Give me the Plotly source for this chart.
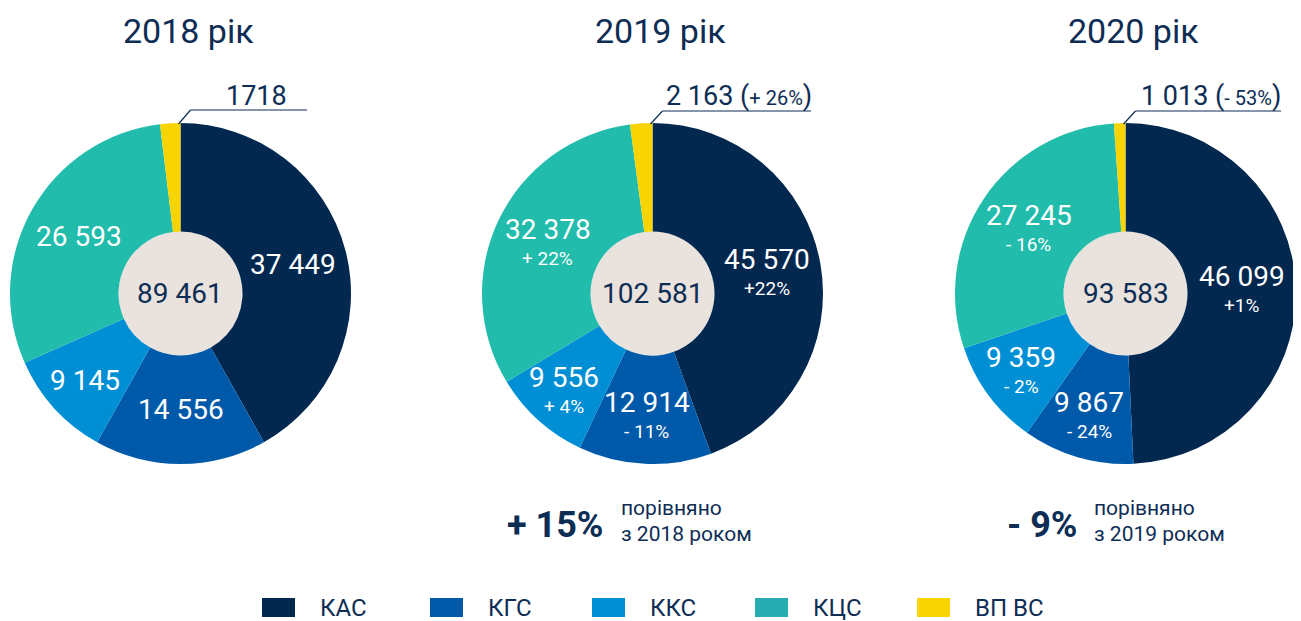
import math
import plotly.graph_objects as go

# ---------------- data ----------------
categories = ["КАС", "КГС", "ККС", "КЦС", "ВП ВС"]
years = ["2018", "2019", "2020"]
values_2018 = [37449, 14556, 9145, 26593, 1718]
values_2019 = [45570, 12914, 9556, 32378, 2163]
values_2020 = [46099, 9867, 9359, 27245, 1013]
change_2019 = ["+22%", "- 11%", "+ 4%", "+ 22%", "+ 26%"]
change_2020 = ["+1%", "- 24%", "- 2%", "- 16%", "- 53%"]
callout_labels = ["1718", "2 163", "1 013"]
total_change = ["", "+ 15%", "- 9%"]
compare_line1 = ["", "порівняно", "порівняно"]
compare_line2 = ["", "з 2018 роком", "з 2019 роком"]

slice_colors = ["#02284f", "#0059a9", "#008fd4", "#21bcab", "#f9d400"]
legend_colors = ["#02284f", "#0059a9", "#008fd4", "#26abb0", "#f9d400"]
NAVY = "#0e2d55"
BEIGE = "#e9e2dd"
FONT = "Roboto"

# page geometry (the figure div sits 8px in from the page corner)
W, H = 1301, 621
OFF = 8
FW, FH = W - OFF, H - OFF
R = 170.5
HOLE_R = 62
centers_x = [180.5, 652.5, 1125.5]
center_y = 293.5


def px(x):
    return (x - OFF) / FW


def py(y):
    return 1 - (y - OFF) / FH


def fmt(v):
    return f"{v:,}".replace(",", " ")


def ann(x, y, text, size, color=NAVY, xanchor="center", yanchor="middle", **fontkw):
    return dict(x=px(x), y=py(y), xref="paper", yref="paper",
                xanchor=xanchor, yanchor=yanchor, text=text, showarrow=False,
                font=dict(family=FONT, size=size, color=color, **fontkw))


all_values = [values_2018, values_2019, values_2020]
all_changes = [None, change_2019, change_2020]

fig = go.Figure()
shapes = []
annotations = []
hole_frac = HOLE_R / R
ring = 1 - hole_frac

for i, (year, vals) in enumerate(zip(years, all_values)):
    cx = centers_x[i]
    fig.add_trace(go.Pie(
        labels=categories,
        values=vals,
        textinfo="none",
        hole=hole_frac,
        sort=False,
        direction="clockwise",
        rotation=0,
        marker=dict(colors=slice_colors, line=dict(width=0)),
        domain=dict(x=[px(cx - R), px(cx + R)], y=[py(center_y + R), py(center_y - R)]),
        showlegend=False,
        hoverinfo="label+value",
    ))

    # slice labels: placed at the centre of each slice's inscribed circle
    total = sum(vals)
    cum = 0
    for j, v in enumerate(vals):
        a0 = cum / total * 2 * math.pi
        cum += v
        a1 = cum / total * 2 * math.pi
        if j == len(vals) - 1:
            continue
        half = (a1 - a0) / 2
        mid = (a0 + a1) / 2
        r_ins = min(1 / (1 + 1 / math.sin(half)), ring / 2)
        rc = (1 - r_ins) * R
        lx = cx + rc * math.sin(mid)
        ly = center_y - rc * math.cos(mid)
        if all_changes[i] is None:
            annotations.append(ann(lx, ly, fmt(v), 28, color="white"))
        else:
            annotations.append(ann(lx, ly - 14, fmt(v), 28, color="white"))
            annotations.append(ann(lx, ly + 15, all_changes[i][j], 19, color="white"))

    # beige centre
    shapes.append(dict(type="circle", xref="paper", yref="paper", layer="below",
                       x0=px(cx - HOLE_R), x1=px(cx + HOLE_R),
                       y0=py(center_y + HOLE_R), y1=py(center_y - HOLE_R),
                       fillcolor=BEIGE, line=dict(width=0)))
    annotations.append(ann(cx, center_y, fmt(total), 28))
    # title
    annotations.append(ann(cx + 8, 31, f"{year} рік", 34))

    # callout for the small slice
    x_start = cx - 2
    x_kink = cx + 10
    x_end = [307, 811, 1281][i]
    y_line = [110, 111, 111][i]
    shapes.append(dict(type="line", xref="paper", yref="paper",
                       x0=px(x_start), y0=py(center_y - R + 1), x1=px(x_kink), y1=py(y_line),
                       line=dict(color=NAVY, width=1.2)))
    shapes.append(dict(type="line", xref="paper", yref="paper",
                       x0=px(x_kink), y0=py(y_line), x1=px(x_end), y1=py(y_line),
                       line=dict(color=NAVY, width=1.2)))
    if all_changes[i] is None:
        ctext = callout_labels[i]
        cxpos = 224
    else:
        ctext = (callout_labels[i] + " (<span style='font-size:20px'>"
                 + all_changes[i][-1] + "</span>)")
        cxpos = [0, 664, 1139][i]
    annotations.append(ann(cxpos, 96, ctext, 27, xanchor="left"))

    # comparison note
    if total_change[i]:
        big_right = [0, 606, 1079][i]
        annotations.append(ann(big_right, 525, total_change[i], 36,
                               xanchor="right", weight="bold"))
        annotations.append(ann(big_right + 13, 508, compare_line1[i], 21, xanchor="left"))
        annotations.append(ann(big_right + 13, 534, compare_line2[i], 21, xanchor="left"))

# custom legend
legend_x = [262, 430, 592, 755, 917]
for k, cat in enumerate(categories):
    x0 = legend_x[k]
    shapes.append(dict(type="rect", xref="paper", yref="paper",
                       x0=px(x0), x1=px(x0 + 33), y0=py(617), y1=py(598),
                       fillcolor=legend_colors[k], line=dict(width=0)))
    annotations.append(ann(x0 + 56, 608, cat, 24, xanchor="left"))

fig.update_layout(
    width=FW, height=FH,
    margin=dict(l=0, r=0, t=0, b=0),
    paper_bgcolor="white",
    plot_bgcolor="rgba(0,0,0,0)",
    showlegend=False,
    shapes=shapes,
    annotations=annotations,
    font=dict(family=FONT, color=NAVY),
)

fig.write_html("out.html")
